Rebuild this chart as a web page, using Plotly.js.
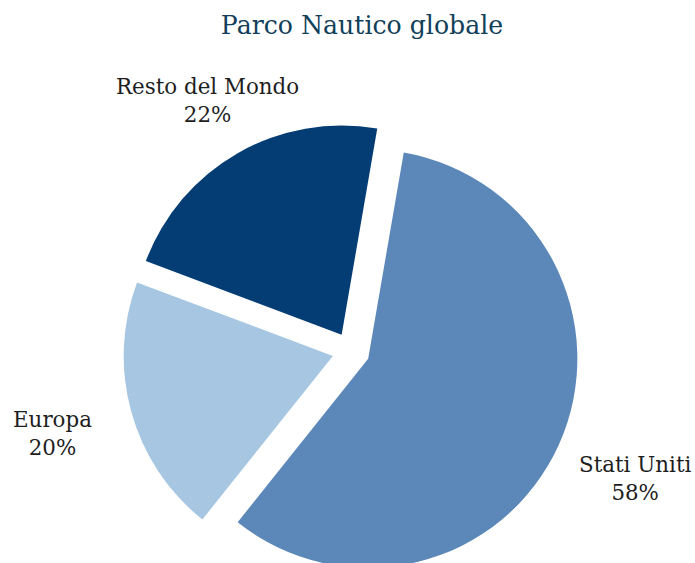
<!DOCTYPE html>
<html>
<head>
<meta charset="utf-8">
<script src="https://cdn.plot.ly/plotly-3.0.1.min.js"></script>
<style>
html, body { margin: 0; padding: 0; overflow: hidden; background: #ffffff; }
#chart { width: 695px; height: 600px; }
</style>
</head>
<body>
<div id="chart"></div>
<script>
// Data
const categories = ["Stati Uniti", "Europa", "Resto del Mondo"];
const shares = [58, 20, 22];
const sliceColors = ["#5b87b9", "#a6c6e1", "#033d74"];
const chartTitle = "Parco Nautico globale";

// Layout configuration
const W = 695, H = 600;
const M = { l: 123, r: 116, t: 123, b: 21 };
const rotationDeg = 9.8;
const pullFrac = 0.09;
const labelDist = [1.49, 1.48, 1.38]; // in units of pie radius
const fontFamily = "'DejaVu Serif', 'Liberation Serif', serif";

// Pie radius as Plotly computes it (min box side / (2 + 2*maxPull))
const boxW = W - M.l - M.r, boxH = H - M.t - M.b;
const R = Math.min(boxW, boxH) / (2 + 2 * pullFrac);

const total = shares.reduce((a, b) => a + b, 0);
let cum = 0;
const annotations = categories.map((cat, i) => {
  const mid = (rotationDeg + (cum + shares[i] / 2) / total * 360) * Math.PI / 180;
  cum += shares[i];
  const dx = Math.sin(mid) * R * labelDist[i];
  const dy = -Math.cos(mid) * R * labelDist[i];
  return {
    xref: "paper", yref: "paper",
    x: 0.5 + dx / boxW,
    y: 0.5 - dy / boxH,
    xanchor: "center", yanchor: "middle",
    showarrow: false,
    align: "center",
    text: cat + "<br>" + Math.round(shares[i] / total * 100) + "%",
    font: { family: fontFamily, size: 21.4, color: "#1e1e1e" }
  };
});

const trace = {
  type: "pie",
  labels: categories,
  values: shares,
  sort: false,
  direction: "clockwise",
  rotation: rotationDeg,
  pull: categories.map(() => pullFrac),
  marker: { colors: sliceColors, line: { width: 0 } },
  textinfo: "none",
  hoverinfo: "label+percent",
  showlegend: false
};

const layout = {
  width: W, height: H,
  margin: M,
  paper_bgcolor: "#ffffff",
  plot_bgcolor: "#ffffff",
  showlegend: false,
  title: {
    text: chartTitle,
    font: { family: fontFamily, size: 25.2, color: "#12405a" },
    x: 362 / W, xref: "container", xanchor: "center",
    y: 1 - 25 / H, yref: "container", yanchor: "middle"
  },
  annotations: annotations
};

Plotly.newPlot("chart", [trace], layout, { displayModeBar: false, staticPlot: true });
</script>
</body>
</html>
